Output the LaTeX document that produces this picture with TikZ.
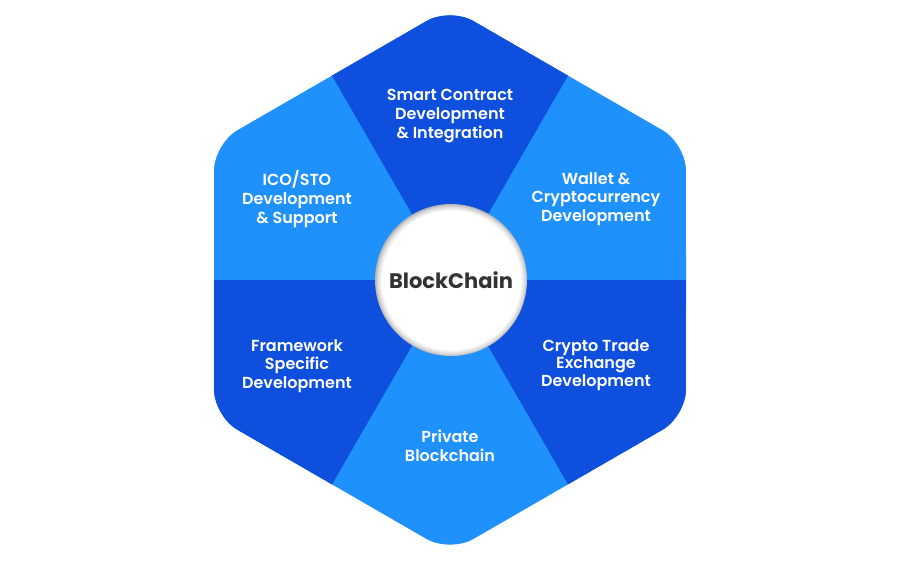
\documentclass[tikz,border=0pt]{standalone}
\usepackage{fontspec}
\setmainfont{Poppins}[BoldFont={Poppins SemiBold}]
\newfontfamily\hubfont{Poppins Bold}
\definecolor{darkblue}{HTML}{0E4FDE}
\definecolor{lightblue}{HTML}{1E91FD}
\definecolor{hubgray}{HTML}{333333}
\pgfdeclareradialshading{hubrim}{\pgfpoint{0bp}{0bp}}{color(0bp)=(white); color(22.8bp)=(white); color(24.3bp)=(black!16); color(25bp)=(black!30); color(50bp)=(black!30)}
\tikzset{
  sectortext/.style={align=center, text=white, font=\bfseries\fontsize{16}{18.8}\selectfont},
  hubtext/.style={text=hubgray, font=\hubfont\fontsize{21}{25}\selectfont}
}
\def\hexpath{(0:236) -- (30:272.5) -- (90:272.5) -- (150:272.5) -- (210:272.5) -- (270:272.5) -- (330:272.5) -- cycle}

\begin{document}
\begin{tikzpicture}[x=1pt,y=1pt]
  \useasboundingbox (-450,-283) rectangle (450,280);
  \coordinate (c) at (0,0);
  \fill[lightblue, rounded corners=27pt] \hexpath;
  \begin{scope}
    \clip[rounded corners=27pt] \hexpath;
    \fill[darkblue] (c) -- (60:236) -- (90:272.5) -- (120:236) -- cycle;
    \fill[darkblue] (c) -- (0:236) -- (330:272.5) -- (300:236) -- cycle;
    \fill[darkblue] (c) -- (180:236) -- (210:272.5) -- (240:236) -- cycle;
  \end{scope}
  \shade[shading=hubrim] (1,0) circle (76);
  \node[hubtext] (hub) at (1,0) {BlockChain};
  \node[sectortext] (smart) at (0,164) {Smart Contract\\Development\\\& Integration};
  \node[sectortext] (wallet) at (146,81) {Wallet \&\\Cryptocurrency\\Development};
  \node[sectortext, font=\bfseries\fontsize{16}{17.2}\selectfont] (exchange) at (146,-85) {Crypto Trade\\Exchange\\Development};
  \node[sectortext] (private) at (0,-166) {Private\\Blockchain};
  \node[sectortext] (framework) at (-153,-86) {Framework\\Specific\\Development};
  \node[sectortext] (ico) at (-153,81) {ICO/STO\\Development\\\& Support};
\end{tikzpicture}
\end{document}
